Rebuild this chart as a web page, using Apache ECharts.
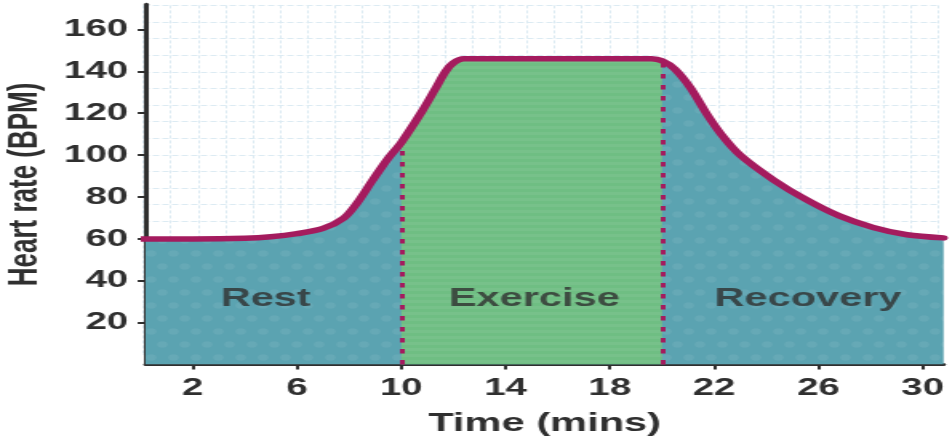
<!DOCTYPE html>
<html>
<head>
<meta charset="utf-8">
<script src="https://cdn.jsdelivr.net/npm/echarts@6/dist/echarts.min.js"></script>
<style>
  html, body { margin: 0; padding: 0; background: #ffffff; overflow: hidden; }
  #chart { width: 593.75px; height: 441px; transform: scaleX(1.6); transform-origin: 0 0; }
</style>
</head>
<body>
<div id="chart"></div>
<script>
// ---- data ----
const xTickValues = [2, 6, 10, 14, 18, 22, 26, 30];
const yTickValues = [20, 40, 60, 80, 100, 120, 140, 160];
const timeMins = [0, 2, 4, 5, 6, 7, 7.8, 8.3, 8.9, 9.5, 10, 10.8, 11.3, 11.7, 12.0, 12.4, 16, 19.6, 20, 20.5, 21.1, 21.7, 22.3, 23, 24.3, 25.5, 26.8, 28.1, 29.4, 30.8];
const heartRate = [60, 60, 60.3, 61, 62.5, 65, 70, 77, 88, 98.5, 106, 121, 131.5, 140, 144, 146, 146, 146, 145, 141, 132, 120, 109.5, 100, 88, 79, 71, 65.5, 62, 60.5];
const phaseNames = ['Rest', 'Exercise', 'Recovery'];
const phaseX = [4.8, 15.1, 25.6];
const phaseY = [31.5, 31.5, 31.5];
const exerciseStart = 10;
const exerciseEnd = 20;
const xName = 'Time (mins)';
const yName = 'Heart rate (BPM)';

// ---- derived ----
const hrPoints = timeMins.map((t, i) => [t, heartRate[i]]);
const exercisePoints = hrPoints.filter(p => p[0] >= exerciseStart && p[0] <= exerciseEnd);
const hrAt = t => heartRate[timeMins.indexOf(t)];
const phaseData = phaseNames.map((n, i) => [phaseX[i], phaseY[i], n]);

const TEAL = '#5ba3b1';
const GREEN = '#6fbe83';
const MAGENTA = '#a41b5e';
const TEXT = '#2f2f2f';
const GRIDLINE = '#dcebf3';
const SMOOTH = 0.3;

// subtle textures (dots on teal, stripes on green)
function dotPattern() {
  const c = document.createElement('canvas');
  c.width = 14; c.height = 26;
  const g = c.getContext('2d');
  g.fillStyle = TEAL; g.fillRect(0, 0, 14, 26);
  g.fillStyle = 'rgba(255,255,255,0.07)';
  [[3.5, 6.5], [10.5, 19.5]].forEach(([x, y]) => { g.beginPath(); g.arc(x, y, 3.3, 0, Math.PI * 2); g.fill(); });
  return { image: c, repeat: 'repeat' };
}
function stripePattern() {
  const c = document.createElement('canvas');
  c.width = 8; c.height = 6;
  const g = c.getContext('2d');
  g.fillStyle = GREEN; g.fillRect(0, 0, 8, 6);
  g.fillStyle = 'rgba(255,255,255,0.06)'; g.fillRect(0, 0, 8, 3);
  return { image: c, repeat: 'repeat' };
}

const chart = echarts.init(document.getElementById('chart'), null, { renderer: 'canvas' });
chart.setOption({
  animation: false,
  backgroundColor: '#ffffff',
  grid: [
    { left: 91.1, right: 4.25, top: 4.3, bottom: 76.4, outerBoundsMode: 'none', containLabel: false },
    { left: 89.5, right: 7.6, top: 5.4, bottom: 87, outerBoundsMode: 'none', containLabel: false }
  ],
  xAxis: [
    {
      type: 'value', gridIndex: 0, min: 0.2, max: 30.8,
      name: xName, nameLocation: 'middle', nameGap: 46,
      nameTextStyle: { color: TEXT, fontSize: 26, fontWeight: 'bold', fontFamily: 'Liberation Sans' },
      axisLine: { show: true, onZero: false, lineStyle: { color: TEXT, width: 3 } },
      axisTick: { show: true, length: 5, lineStyle: { color: TEXT, width: 2 }, customValues: xTickValues },
      axisLabel: { show: true, margin: 12, color: TEXT, fontSize: 24, fontWeight: 'bold', fontFamily: 'Liberation Sans', customValues: xTickValues },
      splitLine: { show: false }
    },
    {
      type: 'value', gridIndex: 1, min: 0, max: 29, interval: 1,
      axisLine: { show: false }, axisTick: { show: false }, axisLabel: { show: false },
      splitLine: { show: true, lineStyle: { color: GRIDLINE, width: 1, type: [3, 2] } }
    }
  ],
  yAxis: [
    {
      type: 'value', gridIndex: 0, min: 0, max: 172,
      name: yName, nameLocation: 'middle', nameGap: 61.5,
      nameTextStyle: { color: TEXT, fontSize: 26, fontWeight: 'bold', fontFamily: 'Liberation Sans' },
      axisLine: { show: true, onZero: false, lineStyle: { color: TEXT, width: 3 } },
      axisTick: { show: true, length: 5, lineStyle: { color: TEXT, width: 2 }, customValues: yTickValues },
      axisLabel: { show: true, margin: 11, color: TEXT, fontSize: 24, fontWeight: 'bold', fontFamily: 'Liberation Sans', customValues: yTickValues },
      splitLine: { show: false }
    },
    {
      type: 'value', gridIndex: 1, min: 0, max: 21, interval: 1,
      axisLine: { show: false }, axisTick: { show: false }, axisLabel: { show: false },
      splitLine: { show: true, lineStyle: { color: GRIDLINE, width: 1, type: [4, 2] } }
    }
  ],
  series: [
    {
      name: 'area', type: 'line', xAxisIndex: 0, yAxisIndex: 0,
      data: hrPoints, smooth: SMOOTH, showSymbol: false, symbol: 'none',
      lineStyle: { width: 0 }, areaStyle: { color: dotPattern(), opacity: 1 }, z: 2, silent: true
    },
    {
      name: 'exercise', type: 'line', xAxisIndex: 0, yAxisIndex: 0,
      data: exercisePoints, smooth: SMOOTH, showSymbol: false, symbol: 'none',
      lineStyle: { width: 0 }, areaStyle: { color: stripePattern(), opacity: 1 }, z: 3, silent: true,
      markLine: {
        silent: true, symbol: 'none', label: { show: false },
        lineStyle: { color: MAGENTA, width: 3, type: [4.5, 6.5], cap: 'butt' },
        data: [
          [{ coord: [exerciseStart, 0] }, { coord: [exerciseStart, hrAt(exerciseStart)] }],
          [{ coord: [exerciseEnd, 0] }, { coord: [exerciseEnd, hrAt(exerciseEnd)] }]
        ]
      }
    },
    {
      name: 'Heart rate', type: 'line', xAxisIndex: 0, yAxisIndex: 0,
      data: hrPoints, smooth: SMOOTH, showSymbol: false, symbol: 'none',
      lineStyle: { color: MAGENTA, width: 5.5, cap: 'round', join: 'round' }, z: 6, silent: true
    },
    {
      name: 'phases', type: 'scatter', xAxisIndex: 0, yAxisIndex: 0,
      data: phaseData, symbolSize: 0, silent: true, z: 7,
      label: {
        show: true, position: 'inside', formatter: p => p.data[2],
        color: TEXT, fontSize: 26, fontWeight: 'bold', fontFamily: 'Liberation Sans'
      }
    }
  ]
});
</script>
</body>
</html>
